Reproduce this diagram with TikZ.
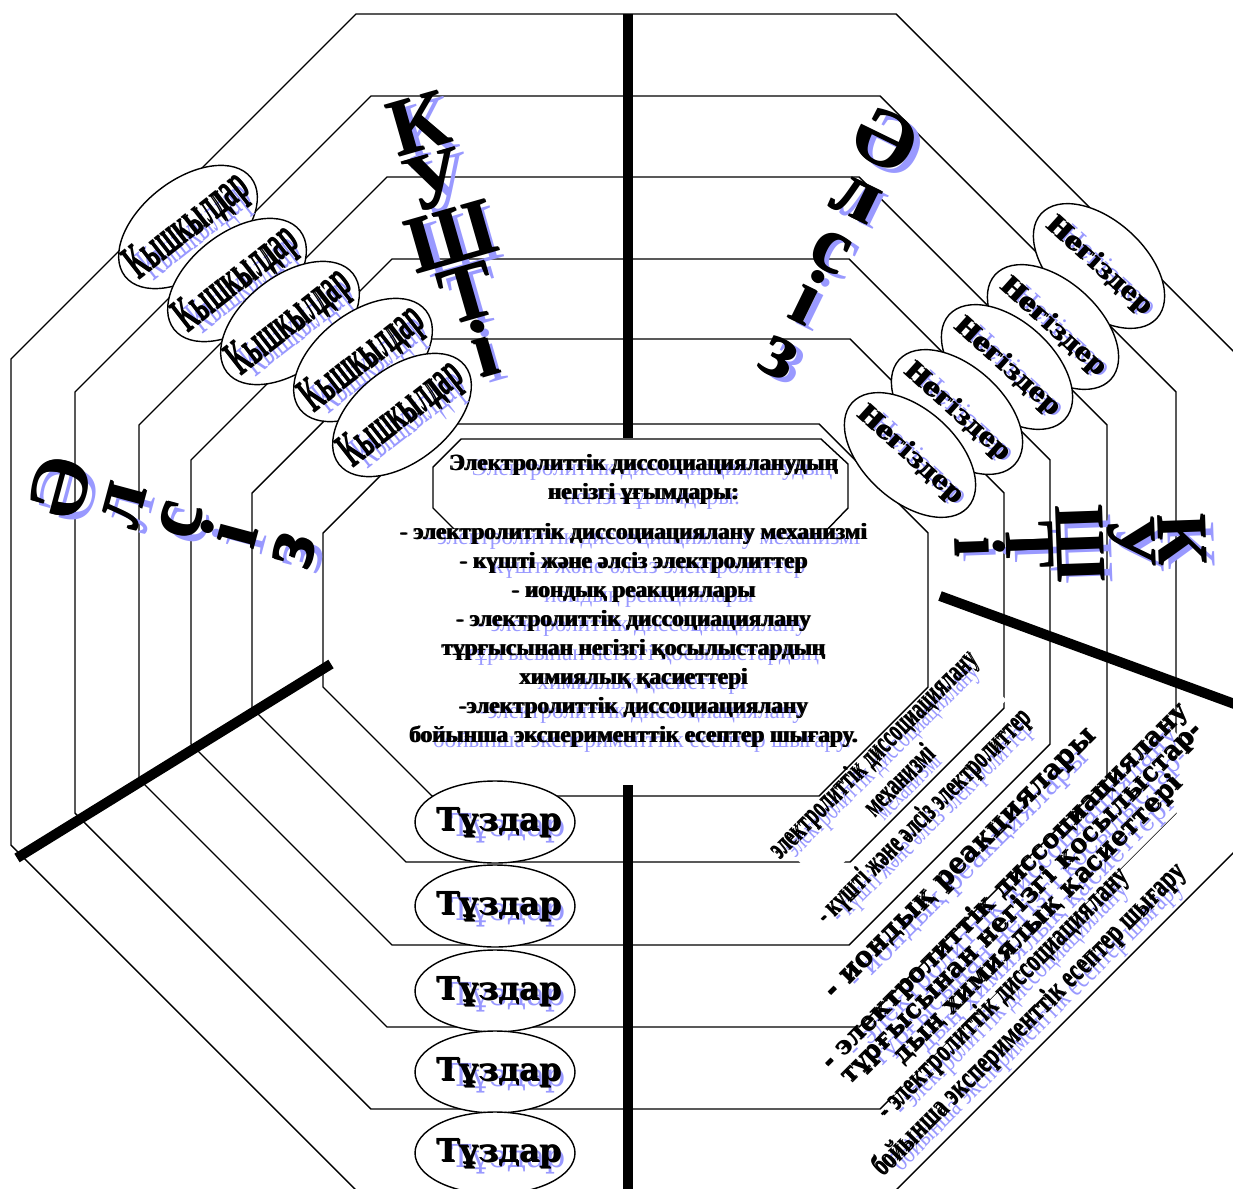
\documentclass[tikz,border=0pt]{standalone}
\usepackage{fontspec}
\usetikzlibrary{calc,shapes.geometric}
\setmainfont{Liberation Serif}
\newfontfamily\trr{Liberation Serif}
\newfontfamily\dvr{DejaVu Serif}
\definecolor{shd}{HTML}{9999FF}
\newif\ifheavy
\newcommand\tr{\trr\ifheavy\bfseries\fi}
\newcommand\dv{\dvr\ifheavy\bfseries\fi}
\newcommand\tight{\lineskiplimit=-100pt\relax}
% every text: thin lavender copy behind, heavy black one (set twice) on top
\newcommand\shtext[4][]{%
  \global\heavyfalse
  \node[txt,#1,text=shd] (#2-s) at ($(#3)+(9,6)$) {#4};
  \global\heavytrue
  \node[txt,#1,fill=none] (#2-h) at ($(#3)+(1.2,0.8)$) {#4};
  \node[txt,#1,fill=none] (#2) at (#3) {#4};}

\begin{document}
\begin{tikzpicture}[x=0.02cm,y=-0.02cm,
    oct/.style={line width=0.8pt},
    bar/.style={line width=5.7pt},
    txt/.style={inner sep=0pt,align=center},
    oval/.style={draw,fill=white,ellipse,line width=0.8pt,inner sep=0pt},
    kis/.style={oval,minimum width=3.2cm,minimum height=1.88cm,rotate=38},
    neg/.style={oval,minimum width=3.12cm,minimum height=1.84cm,rotate=-42},
    tuz/.style={oval,minimum width=3.2cm,minimum height=1.64cm},
    big/.style={font=\tr\fontsize{46}{33.5}\selectfont\tight},
    side/.style={font=\tr\fontsize{40}{29}\selectfont\tight},
    body/.style={font=\tr\fontsize{13.2}{16.5}\selectfont},
    narrow/.style={font=\tr\fontsize{17}{21}\selectfont\tight},
    wide/.style={font=\dv\fontsize{15.5}{20}\selectfont\tight}]

  \useasboundingbox (0,0) rectangle (1233,1189);
  \clip (0,0) rectangle (1233,1189);

  % nested octagons
  \foreach \xa/\ya/\xb/\yb/\cut in {11/14/1241/1190/345,75/96/1176/1109/296,
      139/177/1107/1027/248,191/259/1050/945/201,252/339/1004/862/154,323/424/928/796/109}
    \draw[oct] (\xa+\cut,\ya) -- (\xb-\cut,\ya) -- (\xb,\ya+\cut) -- (\xb,\yb-\cut)
      -- (\xb-\cut,\yb) -- (\xa+\cut,\yb) -- (\xa,\yb-\cut) -- (\xa,\ya+\cut) -- cycle;
  % title frame
  \draw[oct] (461,439) -- (821,439) -- (848,464) -- (848,508) -- (821,536)
    -- (461,536) -- (433,508) -- (433,467) -- cycle;
  % thick dividers
  \draw[bar] (628,14) -- (628,438);
  \draw[bar] (628,785) -- (628,1189);
  \draw[bar] (331,664) -- (17,858);
  \draw[bar] (940,596) -- (1240,706);

  % acids, bases, salts
  \foreach \i/\x/\y in {1/188/227,2/237/280,3/290/323,4/363/360,5/402/415}{
    \node[kis] (kis\i) at (\x,\y) {};
    \shtext[font=\tr\fontsize{28}{30}\selectfont,rotate=38,xscale=0.5]{kist\i}{\x,\y}{Кышкылдар}}
  \foreach \i/\x/\y in {1/1099/266,2/1053/327,3/1007/367,4/957/412,5/910/455}{
    \node[neg] (neg\i) at (\x,\y) {};
    \shtext[font=\dv\fontsize{14.5}{16}\selectfont,rotate=-42]{negt\i}{\x,\y}{Негіздер}}
  \foreach \i/\y in {1/822,2/906,3/991,4/1072,5/1153}{
    \node[tuz] (tuz\i) at (495,\y) {};
    \shtext[font=\dv\fontsize{18}{20}\selectfont]{tuzt\i}{499,\y}{Тұздар}}

  % strong / weak
  \shtext[big,rotate=16]{kushA}{451,236}{К\\У\\Ш\\Т\\і}
  \shtext[side,rotate=-88]{kushB}{1080,543}{К\\У\\Ш\\Т\\і}
  \shtext[big,rotate=-26]{alsA}{833,245}{Ә\\л\\с\\і\\з}
  \shtext[big,rotate=75]{alsB}{173,518}{Ә\\л\\с\\і\\з}

  % centre
  \shtext[body]{title}{643,479}{Электролиттік диссоциацияланудың\\негізгі ұғымдары:}
  \shtext[body,fill=white]{list}{633,635}{- электролиттік диссоциациялану механизмі\\
    - күшті және әлсіз электролиттер\\- иондық реакциялары\\
    - электролиттік диссоциациялану\\тұрғысынан негізгі қосылыстардың\\
    химиялық қасиеттері\\-электролиттік диссоциациялану\\
    бойынша эксперименттік есептер шығару.}

  % the same list, slanted
  \shtext[narrow,rotate=45,xscale=0.64,fill=white]{mech}{885,766}{электролиттік диссоциациялану\\механизмі}
  \shtext[narrow,rotate=45,xscale=0.65,fill=white]{strong}{924,817}{- күшті және әлсіз электролиттер}
  \shtext[wide,rotate=45,fill=white]{ionic}{962,865}{- иондық реакциялары}
  \shtext[font=\dv\fontsize{14.5}{13.3}\selectfont\tight,rotate=45,fill=white]{props}{1021,903}{- электролиттік диссоциациялану\\
    тұрғысынан негізгі қосылыстар-\\дың химиялық қасиеттері}
  \shtext[narrow,rotate=45,xscale=0.75,fill=white]{exper}{1016,1007}{- электролиттік диссоциациялану\\
    бойынша эксперименттік есептер шығару}
\end{tikzpicture}
\end{document}
